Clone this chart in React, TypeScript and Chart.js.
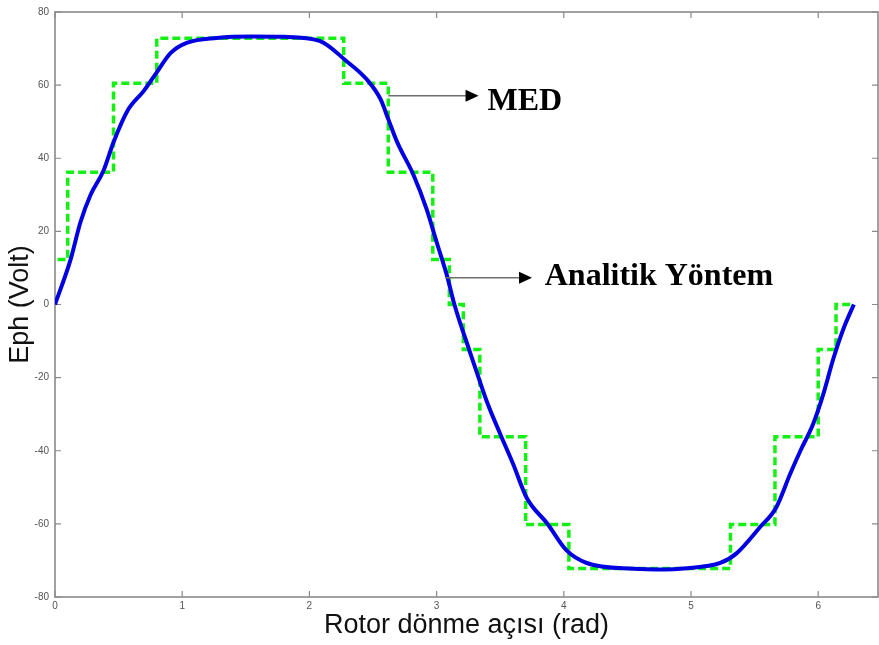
import React, { useEffect, useRef } from "react";
import { Chart, registerables } from "chart.js";

Chart.register(...registerables);

// Analytical method (blue solid curve)
const analyticX = [0, 0.12, 0.2, 0.28, 0.38, 0.46, 0.57, 0.7, 0.8, 0.91, 1.04, 1.27, 1.55, 1.8, 2.08, 2.29, 2.45, 2.56, 2.62, 2.69, 2.82, 2.92, 3.0, 3.08, 3.14, 3.26, 3.32, 3.4, 3.5, 3.6, 3.71, 3.87, 4.02, 4.18, 4.55, 4.8, 4.94, 5.23, 5.36, 5.54, 5.67, 5.78, 5.86, 5.96, 6.04, 6.12, 6.2, 6.28];
const analyticY = [0, 12, 22.5, 30, 36.5, 44.4, 53, 58.5, 63.5, 68.8, 71.6, 72.9, 73.3, 73.2, 72.1, 66.6, 61.6, 56.1, 50.7, 44.4, 35.3, 26.2, 17.1, 8.1, 0, -12.8, -19, -27, -35.4, -43.5, -53, -59.9, -67.2, -70.7, -72.3, -72.5, -72.2, -70.7, -68, -61, -55.5, -46.3, -40, -32.7, -24.5, -14.7, -6.5, 0];

// MED (green dashed step curve): value holds from each x until the next x
const medX = [0.02, 0.1, 0.46, 0.8, 2.27, 2.62, 2.97, 3.1, 3.21, 3.34, 3.7, 4.04, 5.31, 5.66, 6.0, 6.14, 6.275];
const medY = [12.3, 36.2, 60.5, 72.8, 60.5, 36.2, 12.3, 0, -12.3, -36.2, -60.2, -72.2, -60.2, -36.2, -12.3, 0, 0];

const xTicks = [0, 1, 2, 3, 4, 5, 6];
const yTicks = [-80, -60, -40, -20, 0, 20, 40, 60, 80];

const xTitle = "Rotor dönme açısı (rad)";
const yTitle = "Eph (Volt)";

// annotation arrows (data coordinates) and labels
const annoLabels = ["MED", "Analitik Yöntem"];
const annoFromX = [2.62, 3.07];
const annoToX = [3.33, 3.75];
const annoArrowY = [57.1, 7.3];
const annoTextX = [3.4, 3.85];
const annoTextY = [53.3, 5.2];

const frameAndTicks = {
  id: "frameAndTicks",
  beforeDatasetsDraw(chart: any) {
    const { ctx, chartArea: a, scales } = chart;
    const xs = scales.x;
    const ys = scales.y;
    ctx.save();
    ctx.strokeStyle = "#8a8a8a";
    ctx.lineWidth = 1.6;
    ctx.strokeRect(a.left, a.top, a.right - a.left, a.bottom - a.top);
    ctx.lineWidth = 1.2;
    const L = 6;
    ctx.beginPath();
    xTicks.forEach((t) => {
      const px = xs.getPixelForValue(t);
      ctx.moveTo(px, a.bottom);
      ctx.lineTo(px, a.bottom - L);
      ctx.moveTo(px, a.top);
      ctx.lineTo(px, a.top + L);
    });
    yTicks.forEach((t) => {
      const py = ys.getPixelForValue(t);
      ctx.moveTo(a.left, py);
      ctx.lineTo(a.left + L, py);
      ctx.moveTo(a.right, py);
      ctx.lineTo(a.right - L, py);
    });
    ctx.stroke();
    ctx.restore();
  },
  afterDraw(chart: any) {
    const { ctx, scales } = chart;
    const xs = scales.x;
    const ys = scales.y;
    ctx.save();
    annoLabels.forEach((label, i) => {
      const x0 = xs.getPixelForValue(annoFromX[i]);
      const x1 = xs.getPixelForValue(annoToX[i]);
      const y = ys.getPixelForValue(annoArrowY[i]);
      ctx.strokeStyle = "#6e6e6e";
      ctx.lineWidth = 1.6;
      ctx.beginPath();
      ctx.moveTo(x0, y);
      ctx.lineTo(x1 - 10, y);
      ctx.stroke();
      ctx.fillStyle = "#000";
      ctx.beginPath();
      ctx.moveTo(x1, y);
      ctx.lineTo(x1 - 13, y - 6);
      ctx.lineTo(x1 - 13, y + 6);
      ctx.closePath();
      ctx.fill();
      ctx.font = "bold 32px 'Liberation Serif', 'DejaVu Serif', serif";
      ctx.textBaseline = "alphabetic";
      ctx.textAlign = "left";
      ctx.fillText(label, xs.getPixelForValue(annoTextX[i]), ys.getPixelForValue(annoTextY[i]));
    });
    ctx.restore();
  },
};

export default function App() {
  const ref = useRef<HTMLCanvasElement | null>(null);
  useEffect(() => {
    document.body.style.margin = "0";
    const canvas = ref.current;
    if (!canvas) return;
    const chart = new Chart(canvas, {
      type: "line",
      data: {
        datasets: [
          {
            label: "Analitik Yöntem",
            data: analyticX.map((x, i) => ({ x, y: analyticY[i] })),
            borderColor: "rgb(0,0,225)",
            borderWidth: 4,
            pointRadius: 0,
            cubicInterpolationMode: "monotone",
            fill: false,
            order: 0,
          },
          {
            label: "MED",
            data: medX.map((x, i) => ({ x, y: medY[i] })),
            borderColor: "rgb(20,240,20)",
            borderWidth: 3.5,
            borderDash: [8, 4],
            pointRadius: 0,
            stepped: "before",
            fill: false,
            order: 1,
          },
        ],
      },
      options: {
        animation: false,
        responsive: false,
        events: [],
        layout: { padding: { top: 9, right: 1, left: 0, bottom: 0 } },
        plugins: { legend: { display: false }, tooltip: { enabled: false } },
        scales: {
          x: {
            type: "linear",
            min: 0,
            max: 6.47,
            afterFit: (s: any) => {
              s.height = 48;
            },
            afterBuildTicks: (s: any) => {
              s.ticks = xTicks.map((v) => ({ value: v }));
            },
            ticks: {
              includeBounds: false,
              padding: 3,
              color: "#555",
              font: { family: "'Liberation Sans', Arial, sans-serif", size: 10 },
              maxRotation: 0,
            },
            grid: { display: false, drawTicks: false },
            border: { display: false },
            title: {
              display: true,
              text: xTitle,
              color: "#111",
              font: { family: "'Liberation Sans', Arial, sans-serif", size: 27 },
              padding: { top: 0, bottom: 3 },
            },
          },
          y: {
            type: "linear",
            min: -80,
            max: 80,
            afterFit: (s: any) => {
              s.width = 55;
            },
            afterBuildTicks: (s: any) => {
              s.ticks = yTicks.map((v) => ({ value: v }));
            },
            ticks: {
              padding: 6,
              color: "#555",
              font: { family: "'Liberation Sans', Arial, sans-serif", size: 10 },
            },
            grid: { display: false, drawTicks: false },
            border: { display: false },
            title: {
              display: true,
              text: yTitle,
              color: "#111",
              font: { family: "'Liberation Sans', Arial, sans-serif", size: 27 },
              padding: { top: 4, bottom: 0 },
            },
          },
        },
      },
      plugins: [frameAndTicks],
    } as any);
    return () => chart.destroy();
  }, []);
  return (
    <div style={{ width: 879, height: 645, background: "#fff" }}>
      <canvas ref={ref} width={879} height={645} style={{ display: "block" }} />
    </div>
  );
}
